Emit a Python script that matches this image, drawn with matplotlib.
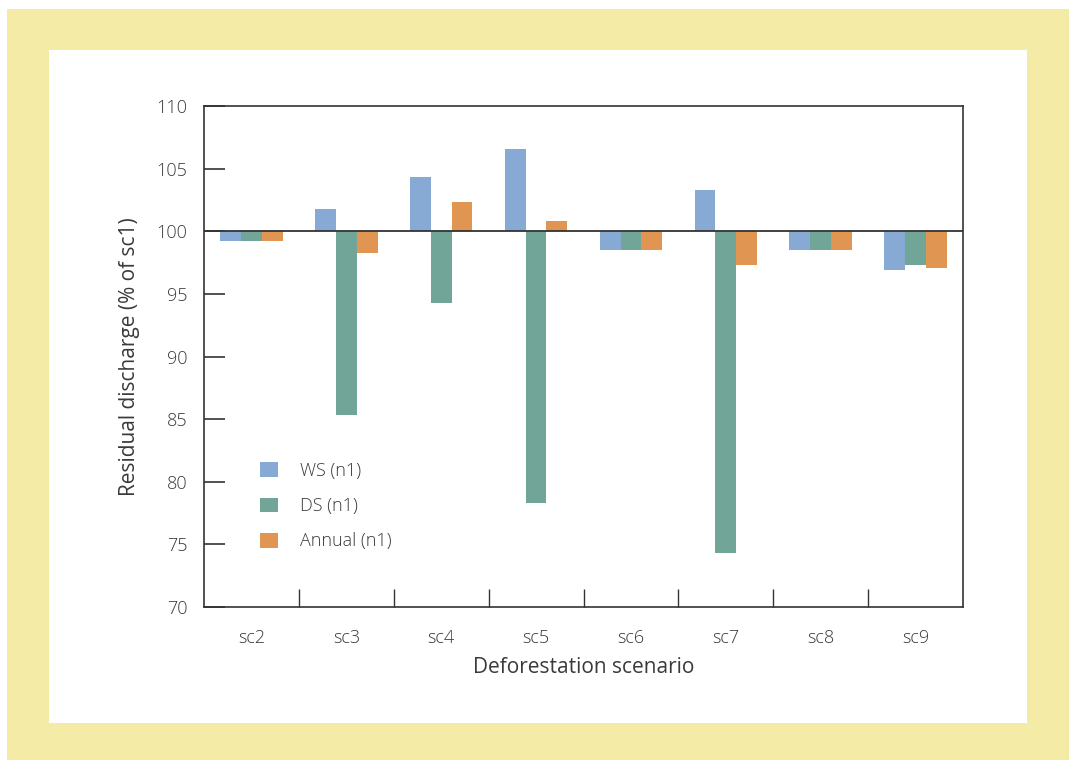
import matplotlib
matplotlib.use("Agg")
import matplotlib.pyplot as plt
from matplotlib.patches import Rectangle
import numpy as np

# values (residual discharge, % of sc1)
scenarios = ["sc2", "sc3", "sc4", "sc5", "sc6", "sc7", "sc8", "sc9"]
ws_n1 = [99.2, 101.8, 104.3, 106.6, 98.5, 103.3, 98.5, 96.9]
ds_n1 = [99.2, 85.3, 94.3, 78.3, 98.5, 74.3, 98.5, 97.3]
annual_n1 = [99.2, 98.3, 102.3, 100.8, 98.5, 97.3, 98.5, 97.1]

series_labels = ["WS (n1)", "DS (n1)", "Annual (n1)"]
colors = ["#87aad4", "#70a597", "#e19552"]
baseline = 100

plt.rcParams['font.family'] = ['Open Sans', 'DejaVu Sans']
plt.rcParams['font.weight'] = 'light'
text_col = "#3a3a3a"

fig = plt.figure(figsize=(10.69, 7.6), dpi=100)
W, H = 1069, 760

# yellow frame and white panel behind the chart
fig.patches.append(Rectangle((7 / W, 0), 1 - 7 / W, 1 - 9 / H, transform=fig.transFigure,
                             facecolor="#f4eba6", edgecolor="none", zorder=-2))
fig.patches.append(Rectangle((49 / W, 1 - 723 / H), (1027 - 49) / W, (723 - 50) / H,
                             transform=fig.transFigure, facecolor="white",
                             edgecolor="none", zorder=-1))

ax = fig.add_axes([204 / W, 1 - 607 / H, 759 / W, 501 / H])

x = np.arange(len(scenarios))
width = 0.22
for i, (vals, lab, c) in enumerate(zip([ws_n1, ds_n1, annual_n1], series_labels, colors)):
    heights = np.array(vals) - baseline
    ax.bar(x + (i - 1) * width, heights, width, bottom=baseline, color=c, label=lab, zorder=2)

ax.axhline(baseline, color="#333333", lw=1.3, zorder=3)

ax.set_xlim(-0.5, len(scenarios) - 0.5)
ax.set_ylim(70, 110)
ax.set_yticks(np.arange(70, 111, 5))
ax.set_xticks(x)
ax.set_xticklabels(scenarios)
ax.set_xticks(np.arange(0.5, len(scenarios) - 1, 1), minor=True)

ax.tick_params(axis="x", which="major", length=0, pad=16, labelsize=13, labelcolor=text_col)
ax.tick_params(axis="x", which="minor", direction="in", length=13, width=1, color="#333333")
ax.tick_params(axis="y", direction="in", length=15, width=1.2, color="#333333",
               pad=12, labelsize=13, labelcolor=text_col)

for s in ax.spines.values():
    s.set_color("#333333")
    s.set_linewidth(1.2)

ax.set_xlabel("Deforestation scenario", fontsize=15, color=text_col, labelpad=7)
ax.set_ylabel("Residual discharge (% of sc1)", fontsize=15, color=text_col, labelpad=12)

ax.legend(loc="lower left", bbox_to_anchor=(0.062, 0.095), frameon=False, fontsize=13,
          handlelength=1.0, handleheight=0.9, handletextpad=1.2, labelspacing=0.95,
          borderpad=0, labelcolor=text_col)

fig.savefig("out.png", dpi=100)
